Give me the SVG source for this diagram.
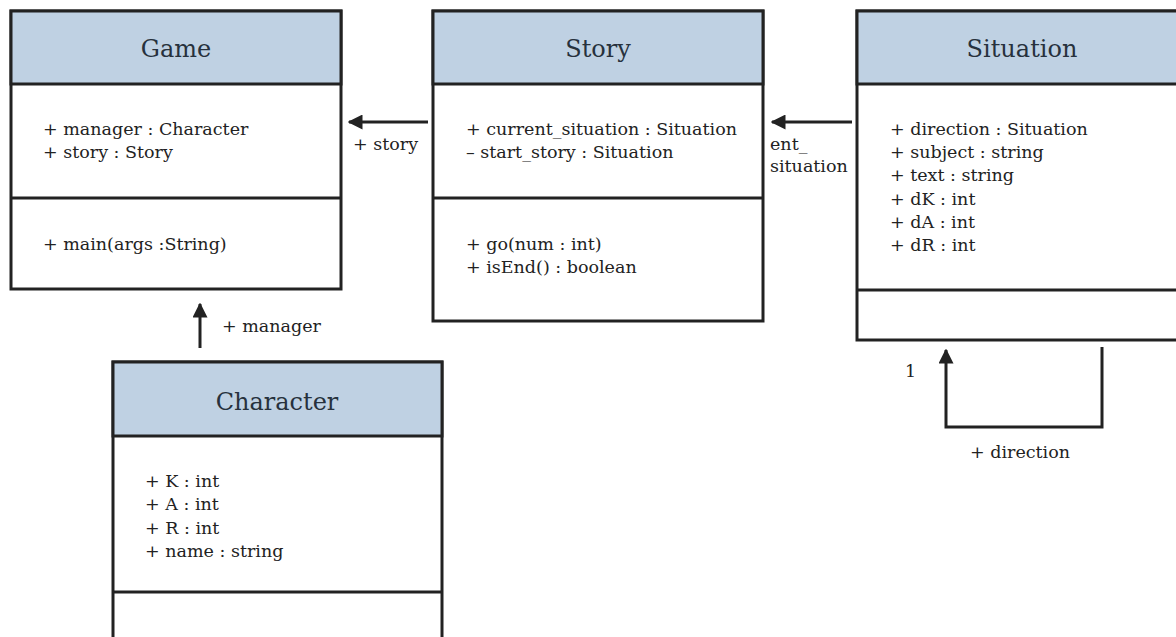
<svg xmlns="http://www.w3.org/2000/svg" width="1176" height="637" viewBox="0 0 1176 637">
  <style>
    .box { fill: #ffffff; stroke: #222222; stroke-width: 3; }
    .head { fill: #bfd1e3; stroke: #222222; stroke-width: 3; }
    .sep { stroke: #222222; stroke-width: 3; }
    .title { font-family: "DejaVu Serif", serif; font-size: 24px; fill: #27313d; text-anchor: middle; }
    .member { font-family: "DejaVu Serif", serif; font-size: 17.5px; fill: #222222; }
    .label { font-family: "DejaVu Serif", serif; font-size: 17.5px; fill: #222222; }
    .conn { fill: none; stroke: #222222; stroke-width: 3; }
  </style>
  <defs>
    <marker id="arrow" viewBox="0 0 10 10" refX="9" refY="5" markerWidth="5" markerHeight="5" markerUnits="strokeWidth" orient="auto">
      <path d="M0,0 L10,5 L0,10 Z" fill="#222222"/>
    </marker>
  </defs>
  <rect width="1176" height="637" fill="#ffffff"/>

  <g id="node-game">
    <rect class="box" x="11" y="11" width="330" height="278"/>
    <rect class="head" x="11" y="11" width="330" height="73"/>
    <line class="sep" x1="11" y1="198" x2="341" y2="198"/>
    <text class="title" x="176" y="57">Game</text>
    <text class="member" x="43" y="135">+ manager : Character</text>
    <text class="member" x="43" y="158">+ story : Story</text>
    <text class="member" x="43" y="250">+ main(args :String)</text>
  </g>

  <g id="node-story">
    <rect class="box" x="433" y="11" width="330" height="310"/>
    <rect class="head" x="433" y="11" width="330" height="73"/>
    <line class="sep" x1="433" y1="198" x2="763" y2="198"/>
    <text class="title" x="598" y="57">Story</text>
    <text class="member" x="466" y="135">+ current_situation : Situation</text>
    <text class="member" x="466" y="158">– start_story : Situation</text>
    <text class="member" x="466" y="250">+ go(num : int)</text>
    <text class="member" x="466" y="273">+ isEnd() : boolean</text>
  </g>

  <g id="node-situation">
    <rect class="box" x="857" y="11" width="330" height="329"/>
    <rect class="head" x="857" y="11" width="330" height="73"/>
    <line class="sep" x1="857" y1="290" x2="1187" y2="290"/>
    <text class="title" x="1022" y="57">Situation</text>
    <text class="member" x="890" y="135">+ direction : Situation</text>
    <text class="member" x="890" y="158">+ subject : string</text>
    <text class="member" x="890" y="181">+ text : string</text>
    <text class="member" x="890" y="205">+ dK : int</text>
    <text class="member" x="890" y="228">+ dA : int</text>
    <text class="member" x="890" y="251">+ dR : int</text>
  </g>

  <g id="node-character">
    <rect class="box" x="113" y="362" width="329" height="290"/>
    <rect class="head" x="113" y="362" width="329" height="74"/>
    <line class="sep" x1="113" y1="592" x2="442" y2="592"/>
    <text class="title" x="277" y="410">Character</text>
    <text class="member" x="145" y="487">+ K : int</text>
    <text class="member" x="145" y="510">+ A : int</text>
    <text class="member" x="145" y="534">+ R : int</text>
    <text class="member" x="145" y="557">+ name : string</text>
  </g>

  <g id="connectors">
    <!-- Story.story -> Game -->
    <line class="conn" x1="428" y1="122" x2="349" y2="122" marker-end="url(#arrow)"/>
    <text class="label" x="353" y="150">+ story</text>
    <!-- Situation -> Story (current_situation) -->
    <line class="conn" x1="852" y1="122" x2="772" y2="122" marker-end="url(#arrow)"/>
    <text class="label" x="770" y="150">ent_</text>
    <text class="label" x="770" y="172">situation</text>
    <!-- Character -> Game (manager) -->
    <line class="conn" x1="200" y1="348" x2="200" y2="304" marker-end="url(#arrow)"/>
    <text class="label" x="222" y="332">+ manager</text>
    <!-- Situation self reference (direction) -->
    <polyline class="conn" points="1102,347 1102,427 946,427 946,350" marker-end="url(#arrow)"/>
    <text class="label" x="905" y="377">1</text>
    <text class="label" x="970" y="458">+ direction</text>
  </g>
</svg>
